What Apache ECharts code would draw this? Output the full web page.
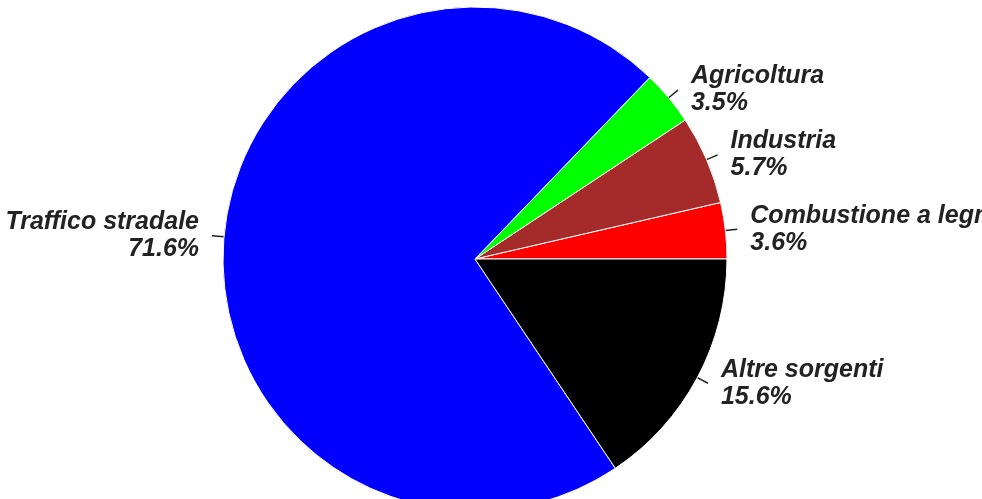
<!DOCTYPE html>
<html>
<head>
<meta charset="utf-8">
<script src="https://cdn.jsdelivr.net/npm/echarts@6/dist/echarts.min.js"></script>
<style>
  html, body { margin: 0; padding: 0; background: #fff; }
  #chart { width: 982px; height: 499px; }
</style>
</head>
<body>
<div id="chart"></div>
<script>
// Emission sources, listed counter-clockwise from 3 o'clock
const sources = ['Combustione a legna', 'Industria', 'Agricoltura', 'Traffico stradale', 'Altre sorgenti'];
const shares = [3.6, 5.7, 3.5, 71.6, 15.6];
const sliceColors = ['#ff0000', '#a52a2a', '#00ff00', '#0000ff', '#000000'];

const chart = echarts.init(document.getElementById('chart'), null, { renderer: 'canvas' });

chart.setOption({
  animation: false,
  backgroundColor: '#ffffff',
  series: [{
    type: 'pie',
    center: [475, 259],
    radius: [0, 252],
    startAngle: 0,
    clockwise: false,
    avoidLabelOverlap: false,
    data: sources.map((name, i) => ({
      name: name,
      value: shares[i],
      itemStyle: { color: sliceColors[i] }
    })),
    itemStyle: { borderColor: '#ffffff', borderWidth: 1 },
    label: {
      show: true,
      position: 'outside',
      alignTo: 'none',
      bleedMargin: -400,
      overflow: 'none',
      distanceToLabelLine: 13,
      formatter: p => p.name + '\n' + p.value.toFixed(1) + '%',
      fontFamily: 'Liberation Sans, Arial, sans-serif',
      fontStyle: 'italic',
      fontWeight: 'bold',
      fontSize: 25,
      lineHeight: 27,
      color: '#222222'
    },
    labelLine: {
      show: true,
      length: 12,
      length2: 0,
      lineStyle: { color: '#222222', width: 1.5 }
    },
    emphasis: { disabled: true }
  }]
});
</script>
</body>
</html>
